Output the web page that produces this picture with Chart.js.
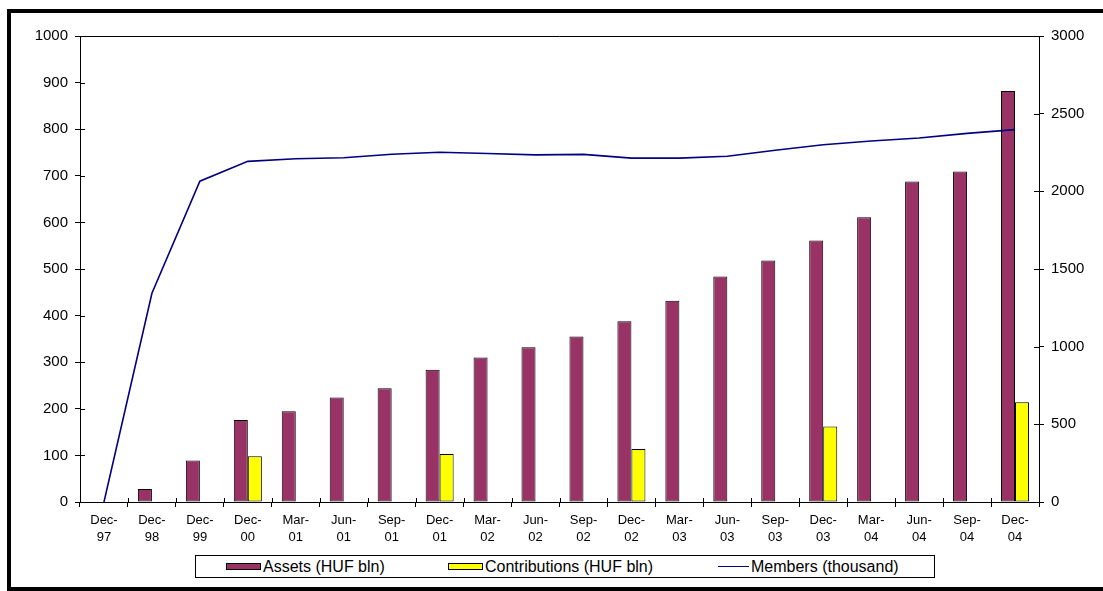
<!DOCTYPE html>
<html>
<head>
<meta charset="utf-8">
<script src="https://cdn.jsdelivr.net/npm/chart.js@4.4.0/dist/chart.umd.min.js"></script>
<style>
  html, body { margin: 0; padding: 0; background: #fff; }
  body { width: 1103px; height: 591px; position: relative; overflow: hidden; font-family: "Liberation Sans", Arial, sans-serif; }
  .frame { position: absolute; left: 7px; top: 9px; width: 1200px; height: 582px; box-sizing: border-box;
           border-left: 4px solid #000; border-top: 4px solid #000; border-bottom: 4px solid #000; }
  .wrap { position: absolute; left: 0; top: 0; width: 1103px; height: 591px; }
  .legend { position: absolute; left: 195px; top: 555px; width: 740px; height: 23px; box-sizing: border-box;
            border: 1px solid #000; background: #fff; font-size: 16px; color: #000; }
  .item { position: absolute; top: 0; height: 21px; line-height: 21px; white-space: nowrap; }
  .sw { position: absolute; top: 7px; width: 35px; height: 7px; box-sizing: border-box; border: 1px solid #000; }
  .ln { position: absolute; top: 10px; height: 0; border-top: 1.5px solid #000080; }
  .item span { position: absolute; top: 0; }
</style>
</head>
<body>
<div class="frame"></div>
<div class="wrap"><canvas id="chart"></canvas></div>
<div class="legend" id="legend"></div>
<script>
// quarter-end dates
const categories = ['Dec-97','Dec-98','Dec-99','Dec-00','Mar-01','Jun-01','Sep-01','Dec-01','Mar-02','Jun-02',
                    'Sep-02','Dec-02','Mar-03','Jun-03','Sep-03','Dec-03','Mar-04','Jun-04','Sep-04','Dec-04'];

// HUF bln, left axis
const assets = [0, 28, 89, 176, 195, 224, 244, 284, 310, 332, 355, 388, 432, 484, 518, 561, 611, 688, 709, 882];
const contributions = [null, null, null, 98, null, null, null, 103, null, null, null, 114, null, null, null, 162, null, null, null, 214];

// thousand, right axis
const members = [0, 1344, 2065, 2193, 2210, 2216, 2239, 2252, 2244, 2235, 2238, 2214, 2214, 2226, 2264, 2300, 2324, 2343, 2373, 2397];

const leftTicks = [0, 1000, 100];
const rightTicks = [0, 3000, 500];

const seriesNames = ['Assets (HUF bln)', 'Contributions (HUF bln)', 'Members (thousand)'];

const labels = categories.map(c => { const p = c.split('-'); return [p[0] + '-', p[1]]; });

const font = { family: '"Liberation Sans", Arial, sans-serif' };

// top border of the plot and the inner halves of the tick marks
const plotBox = {
  id: 'plotBox',
  afterDraw(chart) {
    const { ctx, chartArea: a, scales } = chart;
    ctx.save();
    ctx.strokeStyle = '#000';
    ctx.lineWidth = 1;
    ctx.beginPath();
    ctx.moveTo(a.left, Math.round(a.top) + 0.5);
    ctx.lineTo(a.right, Math.round(a.top) + 0.5);
    scales.y.ticks.forEach((t, i) => {
      const p = Math.round(scales.y.getPixelForTick(i)) + 0.5;
      ctx.moveTo(a.left, p); ctx.lineTo(a.left + 5, p);
    });
    scales.y1.ticks.forEach((t, i) => {
      const p = Math.round(scales.y1.getPixelForTick(i)) + 0.5;
      ctx.moveTo(a.right, p); ctx.lineTo(a.right - 5, p);
    });
    const w = (a.right - a.left) / categories.length;
    for (let i = 0; i <= categories.length; i++) {
      const x = Math.round(a.left + i * w) + 0.5;
      ctx.moveTo(x, a.bottom); ctx.lineTo(x, a.bottom - 4);
    }
    ctx.stroke();
    ctx.restore();
  }
};

const barStyle = {
  borderColor: '#000',
  borderWidth: 1,
  borderSkipped: false,
  categoryPercentage: 0.585,
  barPercentage: 1,
  yAxisID: 'y',
  order: 2
};

new Chart(document.getElementById('chart'), {
  type: 'bar',
  data: {
    labels: labels,
    datasets: [
      { ...barStyle, label: seriesNames[0], data: assets, backgroundColor: '#993366' },
      { ...barStyle, label: seriesNames[1], data: contributions, backgroundColor: '#FFFF00' },
      {
        type: 'line',
        label: seriesNames[2],
        data: members,
        borderColor: '#000080',
        borderWidth: 1.6,
        pointRadius: 0,
        tension: 0,
        fill: false,
        yAxisID: 'y1',
        order: 1
      }
    ]
  },
  options: {
    responsive: true,
    maintainAspectRatio: false,
    animation: false,
    layout: { padding: { top: 36, left: 0, right: 0, bottom: 0 } },
    plugins: {
      legend: { display: false },
      tooltip: { enabled: false }
    },
    scales: {
      x: {
        offset: true,
        grid: { display: true, offset: true, drawOnChartArea: false, drawTicks: true, tickLength: 5, color: '#000' },
        border: { display: true, color: '#000', width: 1 },
        ticks: { color: '#000', font: { ...font, size: 13, lineHeight: 1.3 }, padding: 5, maxRotation: 0, autoSkip: false },
        afterFit(scale) { scale.height = 89; }
      },
      y: {
        position: 'left',
        min: leftTicks[0],
        max: leftTicks[1],
        grid: { display: true, drawOnChartArea: false, drawTicks: true, tickLength: 5, color: '#000' },
        border: { display: true, color: '#000', width: 1 },
        ticks: { stepSize: leftTicks[2], color: '#000', font: { ...font, size: 15 }, padding: 7,
                 callback: v => String(v) },
        afterFit(scale) { scale.width = 80; }
      },
      y1: {
        position: 'right',
        min: rightTicks[0],
        max: rightTicks[1],
        grid: { display: true, drawOnChartArea: false, drawTicks: true, tickLength: 5, color: '#000' },
        border: { display: true, color: '#000', width: 1 },
        ticks: { stepSize: rightTicks[2], color: '#000', font: { ...font, size: 15 }, padding: 7,
                 callback: v => String(v) },
        afterFit(scale) { scale.width = 64; }
      }
    }
  },
  plugins: [plotBox]
});

// legend drawn as html, boxed like the original
const markPos = [30, 252, 522];
const textPos = [67, 289, 555];
const legendEl = document.getElementById('legend');
seriesNames.forEach((name, i) => {
  const item = document.createElement('div');
  item.className = 'item';
  item.style.left = '0px';
  const mark = document.createElement('div');
  if (i < 2) {
    mark.className = 'sw';
    mark.style.background = i === 0 ? '#993366' : '#FFFF00';
  } else {
    mark.className = 'ln';
    mark.style.width = '31px';
  }
  mark.style.left = markPos[i] + 'px';
  item.appendChild(mark);
  const txt = document.createElement('span');
  txt.style.left = textPos[i] + 'px';
  txt.textContent = name;
  item.appendChild(txt);
  legendEl.appendChild(item);
});
</script>
</body>
</html>
